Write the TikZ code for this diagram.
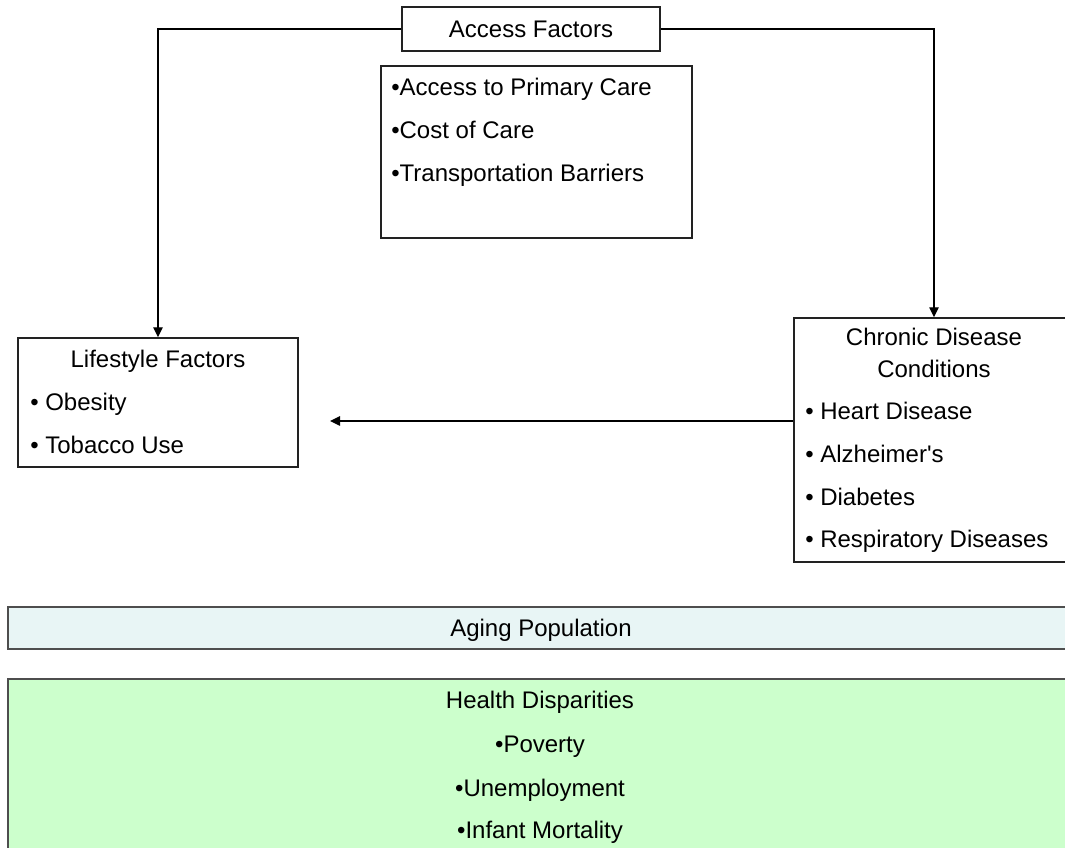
\documentclass[tikz,border=0pt]{standalone}
\usepackage{fontspec}
\setmainfont{Liberation Sans}
\usetikzlibrary{arrows.meta,fit}
\definecolor{agingfill}{HTML}{E8F5F5}
\definecolor{healthfill}{HTML}{CCFFCC}
\definecolor{edge}{HTML}{222222}
\tikzset{
  box/.style={draw=edge, line width=1.1pt, inner sep=0pt, rectangle},
  txt/.style={font=\fontsize{18}{21}\selectfont, inner sep=0pt, text=black},
  conn/.style={line width=1.1pt, draw=black},
  arr/.style={conn, -{Triangle[length=7.5pt,width=7pt]}}
}
\begin{document}
\begin{tikzpicture}[x=0.75pt,y=-0.75pt]
\useasboundingbox (0,0) rectangle (1065,848);
\clip (0,0) rectangle (1065,848);
% boxes
\node[box, fit={(402,7)(660,51)}] (access) {};
\node[box, fit={(381,66)(692,238)}] (accesslist) {};
\node[box, fit={(18,338)(298,467)}] (life) {};
\node[box, fit={(794,318)(1074,562)}] (chronic) {};
\node[box, fill=agingfill, draw=edge!80, fit={(8,607)(1072,649)}] (aging) {};
\node[box, fill=healthfill, draw=edge!80, fit={(8,679)(1072,900)}] (health) {};
% texts
\node[txt, anchor=base] (tAccess) at (531,38) {Access Factors};
\node[txt, anchor=base west] (tA1) at (391,96) {•Access to Primary Care};
\node[txt, anchor=base west] (tA2) at (391,139) {•Cost of Care};
\node[txt, anchor=base west] (tA3) at (391,182) {•Transportation Barriers};
\node[txt, anchor=base] (tLife) at (158,368) {Lifestyle Factors};
\node[txt, anchor=base west] (tL1) at (30,411) {• Obesity};
\node[txt, anchor=base west] (tL2) at (30,454) {• Tobacco Use};
\node[txt, anchor=base] (tC0) at (934,346) {Chronic Disease};
\node[txt, anchor=base] (tC0b) at (934,378) {Conditions};
\node[txt, anchor=base west] (tC1) at (805,420) {• Heart Disease};
\node[txt, anchor=base west] (tC2) at (805,463) {• Alzheimer\textquotesingle s};
\node[txt, anchor=base west] (tC3) at (805,506) {• Diabetes};
\node[txt, anchor=base west] (tC4) at (805,548) {• Respiratory Diseases};
\node[txt, anchor=base] (tAging) at (541,637) {Aging Population};
\node[txt, anchor=base] (tH0) at (540,709) {Health Disparities};
\node[txt, anchor=base] (tH1) at (540,753) {•Poverty};
\node[txt, anchor=base] (tH2) at (540,796) {•Unemployment};
\node[txt, anchor=base] (tH3) at (540,838) {•Infant Mortality};
% connectors
\coordinate (arrowend) at (330,421);
\draw[arr] (access.west) -| (life.north);
\draw[arr] (access.east) -| (chronic.north);
\draw[arr] (chronic.west |- arrowend) -- (arrowend);
\end{tikzpicture}
\end{document}
